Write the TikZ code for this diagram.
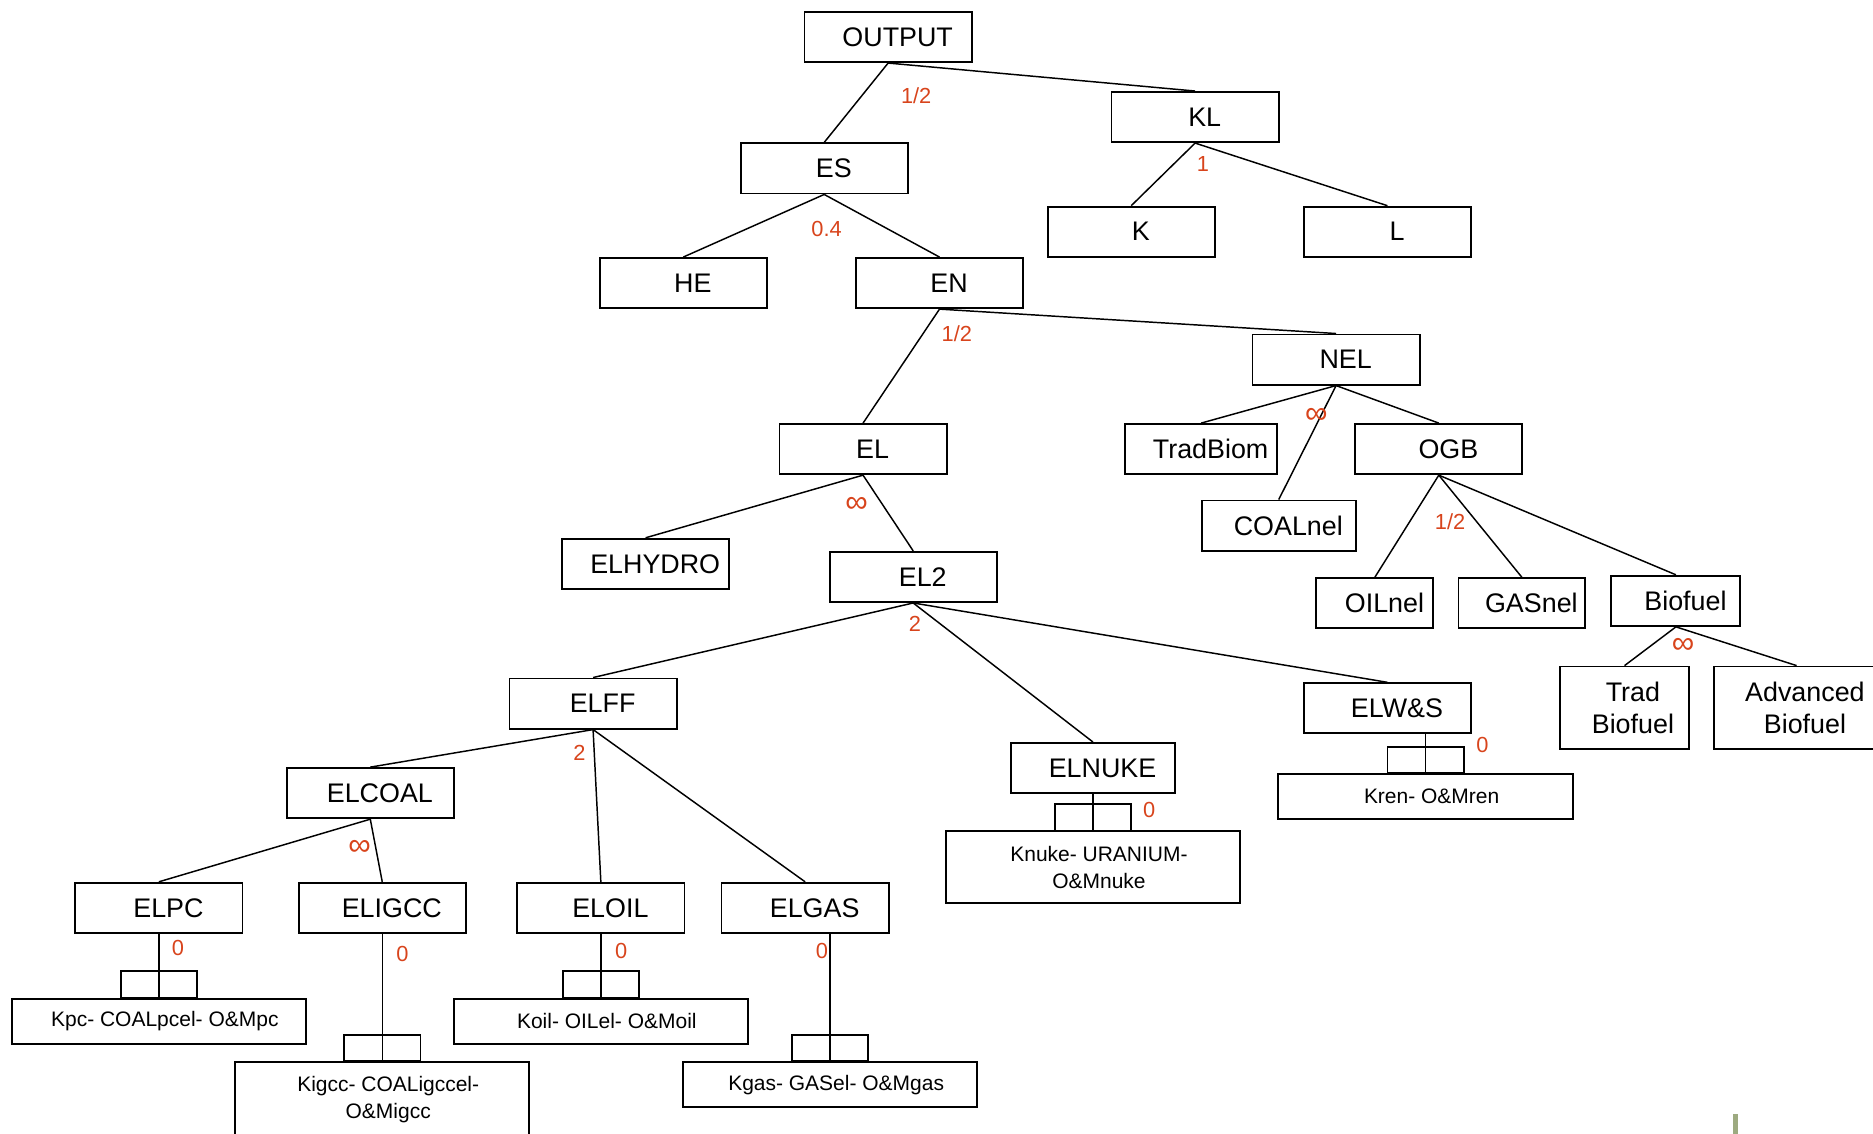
\documentclass[tikz,border=0pt]{standalone}
\usepackage{fontspec}
\setmainfont{Liberation Sans}
\definecolor{WtRed}{HTML}{D8441C}
\definecolor{MarkGreen}{HTML}{9DAA80}
\tikzset{
  box/.style={draw,line width=.9pt,minimum width=2.8cm,minimum height=.84cm,inner sep=0pt,font=\fontsize{12.8}{15}\selectfont},
  sbox/.style={box,execute at begin node={\hspace*{.32cm}}},
  kbox/.style={draw,line width=.9pt,minimum width=4.92cm,minimum height=.76cm,inner sep=0pt,align=center,font=\fontsize{10}{13}\selectfont},
  wt/.style={text=WtRed,inner sep=0pt,font=\fontsize{10.4}{12}\selectfont},
  inf/.style={wt,font=\fontsize{15}{16}\selectfont},
  link/.style={line width=.7pt},
}
\begin{document}
\begin{tikzpicture}[x=.02cm,y=-.02cm]
\path[use as bounding box] (0,0) rectangle (1568,949);
% boxes
\node[sbox] (output) at (743.5,31) {OUTPUT};
\node[sbox] (kl) at (1000.5,98) {KL};
\node[sbox] (es) at (690,141) {ES};
\node[sbox] (k) at (947,194) {K};
\node[sbox] (l) at (1161.5,194) {L};
\node[sbox] (he) at (572,237) {HE};
\node[sbox] (en) at (786.5,237) {EN};
\node[sbox] (nel) at (1118.5,301) {NEL};
\node[sbox] (el) at (722.5,376) {EL};
\node[sbox,minimum width=2.54cm] (tradbiom) at (1005.5,376) {TradBiom};
\node[sbox] (ogb) at (1204.5,376) {OGB};
\node[sbox,minimum width=2.58cm] (coalnel) at (1070.5,440) {COALnel};
\node[sbox] (elhydro) at (540.5,472) {ELHYDRO};
\node[sbox] (el2) at (764.5,483) {EL2};
\node[sbox,minimum width=1.96cm] (oilnel) at (1151,505) {OILnel};
\node[sbox,minimum width=2.12cm] (gasnel) at (1274,505) {GASnel};
\node[sbox,minimum width=2.16cm] (biofuel) at (1403,503) {Biofuel};
\node[sbox] (elff) at (496.5,589) {ELFF};
\node[box,align=center,minimum width=2.16cm,minimum height=1.38cm] (tradbio) at (1360,592.5) {\hspace*{.28cm}Trad\\\hspace*{.28cm}Biofuel};
\node[box,align=center,minimum width=2.78cm,minimum height=1.38cm] (advbio) at (1504,592.5) {\hspace*{.28cm}Advanced\\\hspace*{.28cm}Biofuel};
\node[sbox] (elws) at (1161.5,593) {ELW\&S};
\node[sbox,minimum width=2.76cm] (elnuke) at (915,643) {ELNUKE};
\node[sbox] (elcoal) at (310,664) {ELCOAL};
\node[kbox,minimum width=4.94cm] (kren) at (1193.5,667) {\hspace*{.2cm}Kren- O\&Mren};
\node[kbox,minimum height=1.2cm] (knuke) at (915,726) {\hspace*{.2cm}Knuke- URANIUM-\\\hspace*{.2cm}O\&Mnuke};
\node[sbox] (elpc) at (133,760) {ELPC};
\node[sbox] (eligcc) at (320,760) {ELIGCC};
\node[sbox] (eloil) at (503,760) {ELOIL};
\node[sbox] (elgas) at (674,760) {ELGAS};
\node[kbox] (kpc) at (133,855) {\hspace*{.2cm}Kpc- COALpcel- O\&Mpc};
\node[kbox] (koil) at (503,855) {\hspace*{.2cm}Koil- OILel- O\&Moil};
\node[kbox,minimum height=1.26cm] (kigcc) at (320,920.5) {\hspace*{.2cm}Kigcc- COALigccel-\\\hspace*{.2cm}O\&Migcc};
\node[kbox] (kgas) at (695,908) {\hspace*{.2cm}Kgas- GASel- O\&Mgas};
% nesting lines
\draw[link] (output.south) -- (es.north);
\draw[link] (output.south) -- (kl.north);
\draw[link] (kl.south) -- (k.north);
\draw[link] (kl.south) -- (l.north);
\draw[link] (es.south) -- (he.north);
\draw[link] (es.south) -- (en.north);
\draw[link] (en.south) -- (el.north);
\draw[link] (en.south) -- (nel.north);
\draw[link] (nel.south) -- (tradbiom.north);
\draw[link] (nel.south) -- (coalnel.north);
\draw[link] (nel.south) -- (ogb.north);
\draw[link] (ogb.south) -- (oilnel.north);
\draw[link] (ogb.south) -- (gasnel.north);
\draw[link] (ogb.south) -- (biofuel.north);
\draw[link] (biofuel.south) -- (tradbio.north);
\draw[link] (biofuel.south) -- (advbio.north);
\draw[link] (el.south) -- (elhydro.north);
\draw[link] (el.south) -- (el2.north);
\draw[link] (el2.south) -- (elff.north);
\draw[link] (el2.south) -- (elnuke.north);
\draw[link] (el2.south) -- (elws.north);
\draw[link] (elff.south) -- (elcoal.north);
\draw[link] (elff.south) -- (eloil.north);
\draw[link] (elff.south) -- (elgas.north);
\draw[link] (elcoal.south) -- (elpc.north);
\draw[link] (elcoal.south) -- (eligcc.north);
% Leontief forks
\draw[link] (elpc.south -| kpc.north) -- (kpc.north);
\draw[link] (eligcc.south -| kigcc.north) -- (kigcc.north);
\draw[link] (eloil.south -| koil.north) -- (koil.north);
\draw[link] (elgas.south -| kgas.north) -- (kgas.north);
\draw[link] (elnuke.south -| knuke.north) -- (knuke.north);
\draw[link] (elws.south -| kren.north) -- (kren.north);
\draw[line width=.9pt] ([xshift=-.64cm]kpc.north) rectangle ([xshift=.64cm,yshift=.44cm]kpc.north);
\draw[line width=.9pt] ([xshift=-.64cm]kigcc.north) rectangle ([xshift=.64cm,yshift=.44cm]kigcc.north);
\draw[line width=.9pt] ([xshift=-.64cm]koil.north) rectangle ([xshift=.64cm,yshift=.44cm]koil.north);
\draw[line width=.9pt] ([xshift=-.64cm]kgas.north) rectangle ([xshift=.64cm,yshift=.44cm]kgas.north);
\draw[line width=.9pt] ([xshift=-.64cm]knuke.north) rectangle ([xshift=.64cm,yshift=.44cm]knuke.north);
\draw[line width=.9pt] ([xshift=-.64cm]kren.north) rectangle ([xshift=.64cm,yshift=.44cm]kren.north);
% elasticities
\node[wt] (w-output) at (767,80) {1/2};
\node[wt] (w-kl) at (1007,137) {1};
\node[wt] (w-es) at (692,192) {0.4};
\node[wt] (w-en) at (801,279) {1/2};
\node[inf] (w-nel) at (1102,348) {∞};
\node[inf] (w-el) at (717,423) {∞};
\node[wt] (w-ogb) at (1214,437) {1/2};
\node[wt] (w-el2) at (766,522) {2};
\node[inf] (w-biofuel) at (1409,541) {∞};
\node[wt] (w-elff) at (485,630) {2};
\node[wt] (w-elws) at (1241,624) {0};
\node[wt] (w-elnuke) at (962,678) {0};
\node[inf] (w-elcoal) at (301,710) {∞};
\node[wt] (w-elpc) at (149,794) {0};
\node[wt] (w-eligcc) at (337,799) {0};
\node[wt] (w-eloil) at (520,796) {0};
\node[wt] (w-elgas) at (688,796) {0};
\fill[MarkGreen] (1451,933) rectangle (1455,949);
\end{tikzpicture}
\end{document}
